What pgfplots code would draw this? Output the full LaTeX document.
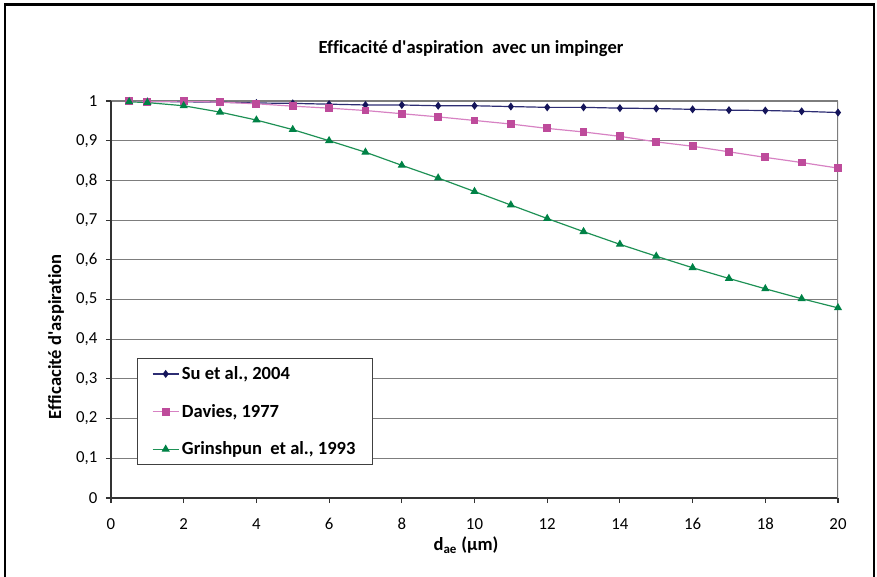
\documentclass[border=0pt]{standalone}
\usepackage{pgfplots}
\pgfplotsset{compat=1.18}
\usepackage{fontspec}
\setmainfont{Carlito}[Ligatures={TeX,NoCommon}]
\definecolor{sumark}{RGB}{20,20,90}
\definecolor{suline}{RGB}{45,45,115}
\definecolor{damark}{RGB}{190,75,155}
\definecolor{daline}{RGB}{215,130,195}
\definecolor{grmark}{RGB}{0,130,70}
\definecolor{grline}{RGB}{30,145,85}
\definecolor{gridc}{RGB}{125,125,125}
\begin{document}
\begin{tikzpicture}[x=1pt,y=1pt]
\useasboundingbox (0,0) rectangle (657.75,432);
\draw[line width=1.6pt,black] (3.75,-5) -- (3.75,428.6) -- (655.5,428.6) -- (655.5,-5);
\node[font=\fontsize{13.9}{16}\selectfont\bfseries] at (353.25,395.25) {Efficacité d\textquotesingle aspiration\ \ avec un impinger};
\node[font=\fontsize{13.9}{16}\selectfont\bfseries, rotate=90] at (42,179.4) {Efficacité d\textquotesingle aspiration};
\node[font=\fontsize{13.9}{16}\selectfont\bfseries] at (349.5,23.25) {d\textsubscript{ae} (µm)};
\begin{axis}[
  at={(83.25pt,58.5pt)}, anchor=south west, scale only axis,
  width=545.25pt, height=297.75pt,
  xmin=0, xmax=20, ymin=0, ymax=1,
  xtick={0,2,...,20}, ytick={0,0.1,...,1.01},
  axis lines*=left,
  axis line style={line width=0.8pt, black!80},
  tick align=outside, major tick length=3.75pt,
  tick style={line width=0.8pt, black!80},
  ymajorgrids, grid style={line width=0.8pt, gridc},
  /pgf/number format/assume math mode=true,
  /pgf/number format/use comma,
  ticklabel style={font=\fontsize{12.6}{14}\selectfont},
  xticklabel style={yshift=-8pt},
  yticklabel style={xshift=-3pt},
  legend style={at={(0.0358,0.3526)}, anchor=north west, draw=black!75, line width=0.6pt,
     font=\fontsize{13.9}{16}\selectfont\bfseries, row sep=13pt, inner xsep=11pt, inner ysep=4pt,
     cells={anchor=west}},
  legend image code/.code={\draw[mark repeat=2,mark phase=2] plot coordinates {(0pt,0pt)(9.75pt,0pt)(19.5pt,0pt)};},
]
\addplot[line width=0.9pt, suline, mark=diamond*, mark size=2.3pt, mark options={fill=sumark, draw=sumark}] coordinates {
(0.5,1.000)(1,0.999)(2,0.998)(3,0.997)(4,0.995)(5,0.994)(6,0.992)(7,0.990)(8,0.990)(9,0.988)(10,0.988)
(11,0.986)(12,0.984)(13,0.984)(14,0.982)(15,0.981)(16,0.979)(17,0.977)(18,0.976)(19,0.974)(20,0.971)};
\addlegendentry{Su et al., 2004}
\addplot[line width=0.9pt, daline, mark=square*, mark size=2.5pt, mark options={fill=damark, draw=damark}] coordinates {
(0.5,1.000)(1,0.998)(2,1.000)(3,0.997)(4,0.993)(5,0.987)(6,0.982)(7,0.976)(8,0.968)(9,0.960)(10,0.951)
(11,0.942)(12,0.931)(13,0.922)(14,0.911)(15,0.897)(16,0.886)(17,0.872)(18,0.858)(19,0.845)(20,0.831)};
\addlegendentry{Davies, 1977}
\addplot[line width=0.9pt, grline, mark=triangle*, mark size=2.7pt, mark options={fill=grmark, draw=grmark}] coordinates {
(0.5,0.998)(1,0.996)(2,0.988)(3,0.972)(4,0.952)(5,0.928)(6,0.900)(7,0.871)(8,0.838)(9,0.806)(10,0.772)
(11,0.738)(12,0.704)(13,0.671)(14,0.639)(15,0.609)(16,0.580)(17,0.553)(18,0.527)(19,0.502)(20,0.479)};
\addlegendentry{Grinshpun\ \ et al., 1993}
\draw[line width=0.8pt, gridc] (axis cs:20,0) -- (axis cs:20,1);
\end{axis}
\end{tikzpicture}
\end{document}
